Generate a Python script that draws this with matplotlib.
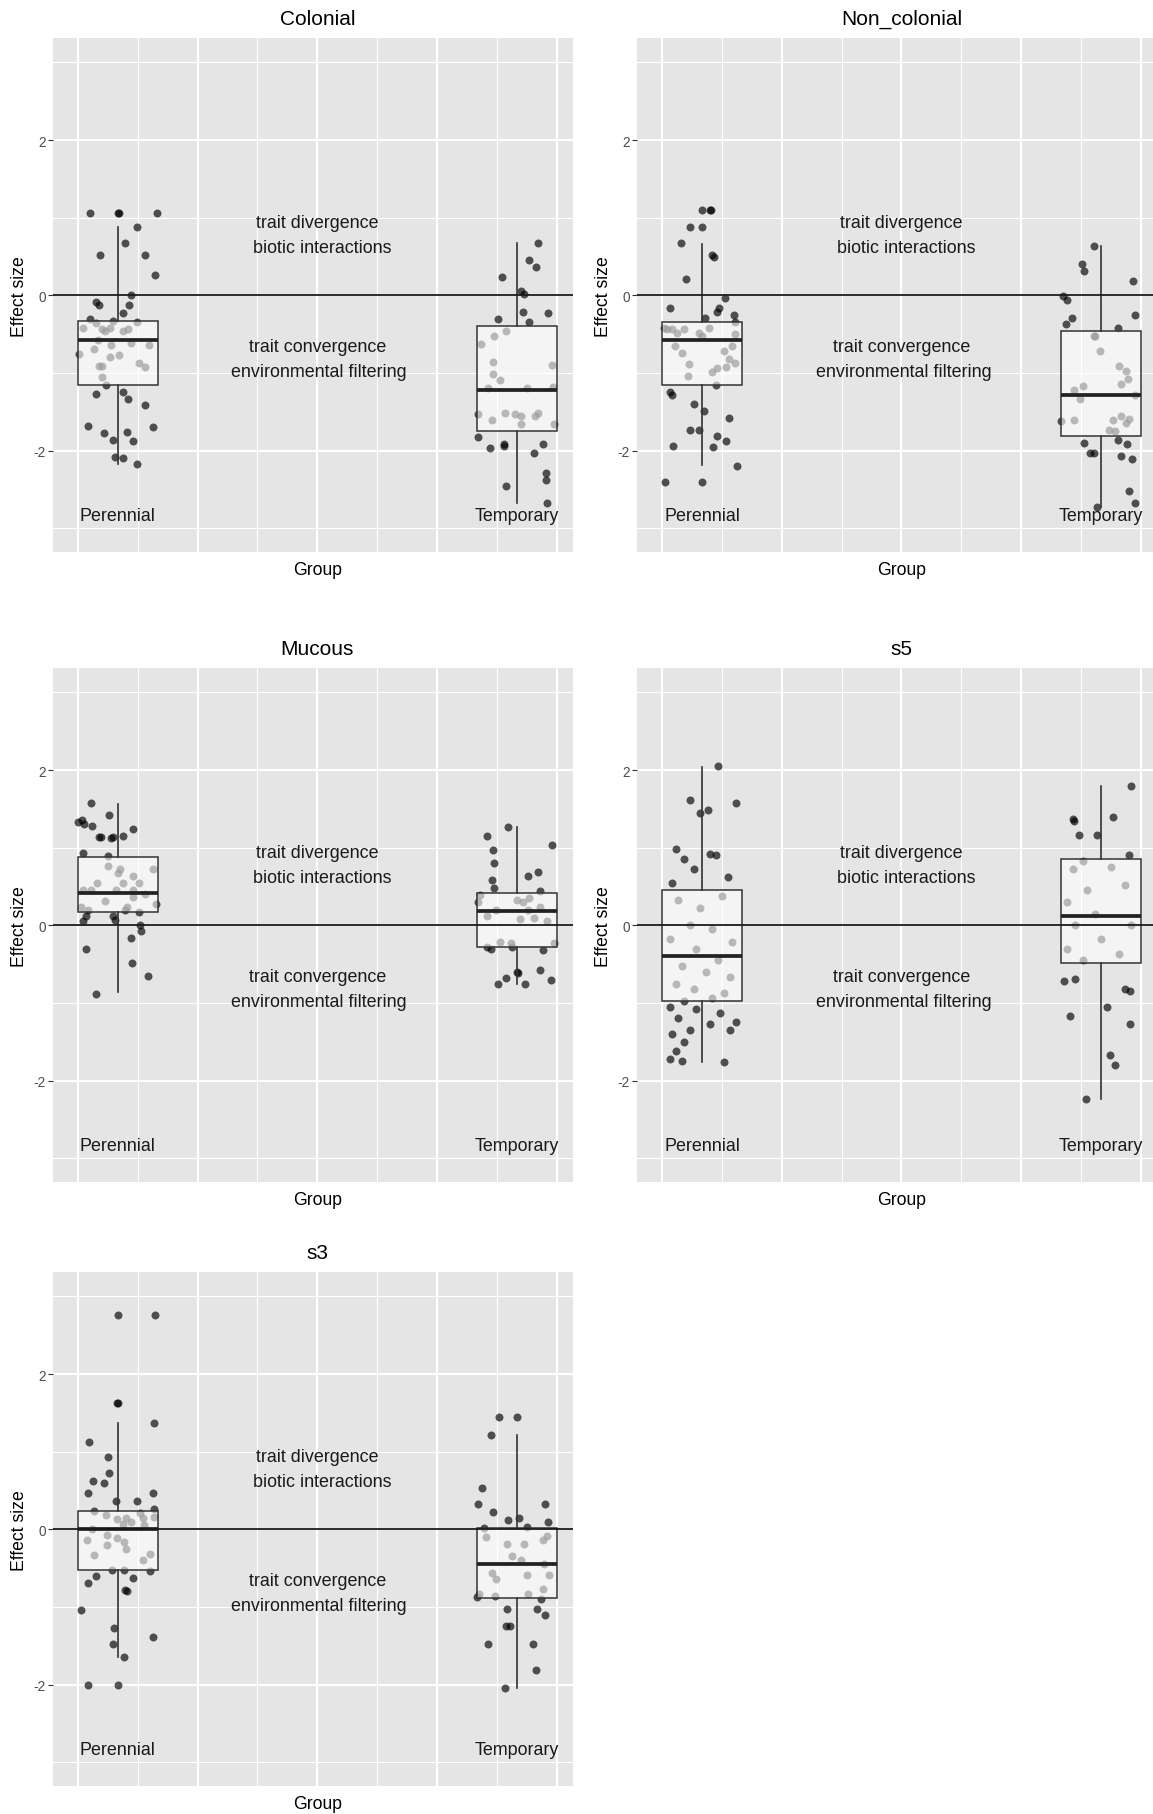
import matplotlib
matplotlib.use("Agg")
import matplotlib.pyplot as plt
from matplotlib.transforms import blended_transform_factory

plt.rcParams['font.family'] = ['Liberation Sans', 'DejaVu Sans']

FIG_W, FIG_H = 1153, 1815          # output size in pixels (dpi 100)
PANEL_W, PANEL_H = 520, 514        # panel size in pixels

titles = ["Colonial", "Non_colonial", "Mucous", "s5", "s3"]
groups = ["Perennial", "Temporary"]

# ---- Colonial ----------------------------------------------------------------
colonial_per_y = [1.06, 1.06, 1.06, 1.06, 0.88, 0.67, 0.52, 0.52, 0.26, 0.01, -0.08, -0.12, -0.12,
                  -0.23, -0.30, -0.33, -0.34, -0.42, -0.36, -0.43, -0.46, -0.42, -0.46, -0.44, -0.58,
                  -0.69, -0.64, -0.62, -0.64, -0.76, -0.79, -0.77, -0.87, -0.92, -0.91, -0.91, -1.05,
                  -1.16, -1.27, -1.25, -1.33, -1.41, -1.68, -1.69, -1.77, -1.76, -1.86, -1.88, -2.08,
                  -2.10, -2.17]
colonial_per_dx = [-0.070, 0.000, 0.002, 0.099, 0.047, 0.018, -0.045, 0.069, 0.092, 0.034, -0.054,
                   -0.048, 0.028, 0.013, -0.070, -0.012, 0.048, -0.087, -0.056, -0.041, -0.033, -0.020,
                   0.012, 0.026, -0.049, -0.060, -0.018, 0.034, 0.078, -0.098, -0.020, 0.002, 0.053,
                   0.069, -0.047, -0.039, -0.041, -0.031, -0.054, 0.013, 0.026, 0.068, -0.076, 0.089,
                   -0.034, 0.022, -0.012, 0.038, -0.008, 0.012, 0.047]
colonial_tmp_y = [0.67, 0.46, 0.36, 0.23, 0.06, 0.02, -0.21, -0.23, -0.30, -0.35, -0.46, -0.53, -0.63,
                  -0.86, -0.90, -1.02, -1.09, -1.19, -1.19, -1.18, -1.53, -1.60, -1.52, -1.53, -1.56,
                  -1.66, -1.55, -1.52, -1.66, -1.82, -1.97, -1.92, -1.94, -2.03, -1.92, -2.29, -2.38,
                  -2.45, -2.68]
colonial_tmp_dx = [0.054, 0.030, 0.049, -0.037, 0.011, 0.019, 0.015, 0.079, -0.048, 0.032, -0.028,
                   -0.057, -0.089, -0.059, 0.089, -0.059, -0.042, -0.071, 0.025, 0.092, -0.098, -0.063,
                   -0.029, -0.004, 0.011, 0.011, 0.046, 0.053, 0.094, -0.096, -0.067, -0.032, -0.031,
                   0.044, 0.067, 0.073, 0.073, -0.027, 0.075]
# q1, median, q3, lower whisker, upper whisker
colonial_box = [(-1.15, -0.58, -0.33, -2.17, 0.88), (-1.75, -1.22, -0.40, -2.68, 0.67)]

# ---- Non_colonial ------------------------------------------------------------
noncol_per_y = [1.10, 1.10, 1.10, 0.88, 0.88, 0.67, 0.52, 0.49, 0.21, -0.04, -0.16, -0.16, -0.22,
                -0.25, -0.29, -0.34, -0.42, -0.43, -0.44, -0.48, -0.44, -0.48, -0.52, -0.42, -0.50,
                -0.65, -0.74, -0.87, -0.72, -0.65, -0.82, -0.89, -0.92, -0.93, -0.99, -1.04, -1.15,
                -1.24, -1.28, -1.40, -1.49, -1.58, -1.73, -1.73, -1.94, -1.81, -1.88, -1.95, -2.20,
                -2.40, -2.40]
noncol_per_dx = [0.000, 0.023, 0.021, -0.029, 0.000, -0.052, 0.025, 0.029, -0.041, 0.057, -0.079,
                 0.042, 0.038, 0.079, 0.008, 0.082, -0.096, -0.088, -0.075, -0.063, -0.046, -0.008,
                 0.000, 0.017, 0.084, -0.067, -0.050, 0.084, 0.054, 0.074, 0.067, -0.033, 0.059,
                 0.038, 0.025, -0.035, 0.036, -0.079, -0.075, -0.021, 0.004, 0.067, -0.029, -0.008,
                 -0.073, 0.038, 0.059, 0.027, 0.089, -0.094, 0.000]
noncol_tmp_y = [0.64, 0.40, 0.31, 0.18, -0.01, -0.06, -0.29, -0.26, -0.37, -0.42, -0.52, -0.52, -0.72,
                -0.91, -0.97, -1.08, -1.14, -1.17, -1.22, -1.33, -1.28, -1.62, -1.60, -1.61, -1.55,
                -1.59, -1.65, -1.73, -1.75, -1.90, -2.03, -2.03, -1.87, -1.91, -2.07, -2.11, -2.52,
                -2.68, -2.73]
noncol_tmp_dx = [-0.018, -0.047, -0.043, 0.080, -0.095, -0.085, -0.072, 0.085, -0.087, 0.043, -0.018,
                 -0.014, -0.001, 0.045, 0.064, 0.068, 0.051, -0.045, -0.066, -0.053, 0.085, -0.099,
                 -0.068, 0.030, 0.051, 0.070, 0.064, 0.020, 0.036, -0.043, -0.028, -0.018, 0.043,
                 0.066, 0.051, 0.078, 0.070, 0.085, -0.010]
noncol_box = [(-1.15, -0.57, -0.34, -2.19, 0.66), (-1.81, -1.28, -0.46, -2.73, 0.63)]

# ---- Mucous ------------------------------------------------------------------
mucous_per_y = [1.58, 1.33, 1.36, 1.30, 1.28, 1.42, 1.24, 1.14, 1.14, 1.13, 1.14, 1.15, 0.93, 0.89,
                0.77, 0.73, 0.67, 0.72, 0.63, 0.54, 0.54, 0.55, 0.45, 0.45, 0.46, 0.46, 0.31, 0.37,
                0.40, 0.28, 0.23, 0.20, 0.24, 0.20, 0.17, 0.12, 0.06, 0.12, 0.07, 0.01, -0.07, -0.17,
                -0.30, -0.48, -0.65, -0.88]
mucous_per_dx = [-0.068, -0.100, -0.089, -0.084, -0.064, -0.022, 0.038, -0.047, -0.042, -0.018,
                 -0.013, 0.013, -0.087, -0.025, -0.024, 0.006, 0.001, 0.087, 0.038, -0.053, 0.013,
                 0.054, -0.087, -0.067, -0.006, 0.038, -0.033, 0.038, 0.068, 0.096, -0.093, -0.075,
                 0.024, 0.019, 0.052, -0.079, -0.087, -0.013, -0.008, 0.056, 0.058, 0.033, -0.079,
                 0.035, 0.076, -0.054]
mucous_tmp_y = [1.26, 1.15, 1.04, 0.97, 0.80, 0.64, 0.69, 0.58, 0.48, 0.44, 0.39, 0.30, 0.32, 0.30,
                0.35, 0.12, 0.20, 0.20, 0.23, 0.08, 0.09, 0.06, -0.21, -0.23, -0.28, -0.23, -0.28,
                -0.30, -0.32, -0.60, -0.61, -0.58, -0.68, -0.75, -0.76, -0.70]
mucous_tmp_dx = [-0.021, -0.074, 0.089, -0.060, -0.058, 0.028, 0.054, -0.063, -0.058, 0.059, -0.093,
                 -0.097, 0.002, 0.016, 0.031, -0.074, -0.053, 0.028, 0.059, 0.009, 0.043, 0.076,
                 -0.042, -0.014, -0.012, 0.094, -0.074, -0.065, 0.066, 0.002, 0.004, 0.059, -0.028,
                 -0.046, 0.020, 0.087]
mucous_box = [(0.17, 0.41, 0.88, -0.86, 1.56), (-0.28, 0.18, 0.42, -0.76, 1.26)]

# ---- s5 ----------------------------------------------------------------------
s5_per_y = [2.05, 1.62, 1.58, 1.45, 1.48, 0.98, 0.85, 0.92, 0.90, 0.72, 0.55, 0.62, 0.33, 0.22, 0.38,
            0.00, -0.05, -0.18, -0.22, -0.30, -0.45, -0.52, -0.60, -0.67, -0.75, -0.82, -0.87, -0.93,
            -0.97, -1.05, -1.08, -1.13, -1.20, -1.27, -1.24, -1.40, -1.35, -1.35, -1.50, -1.62, -1.72,
            -1.75, -1.76]
s5_per_dx = [0.040, -0.030, 0.085, -0.005, 0.015, -0.065, -0.045, 0.020, 0.035, -0.020, -0.075, 0.065,
             -0.060, -0.005, 0.050, -0.030, 0.025, -0.080, 0.075, -0.015, 0.040, -0.050, 0.010, 0.070,
             -0.065, -0.020, 0.055, 0.025, -0.045, -0.080, -0.015, 0.045, -0.060, 0.020, 0.085, -0.075,
             -0.030, 0.070, -0.045, -0.065, -0.080, -0.050, 0.055]
s5_tmp_y = [1.79, 1.37, 1.34, 1.40, 1.16, 1.16, 0.83, 0.90, 0.72, 0.75, 0.45, 0.52, 0.30, 0.15, 0.00,
            0.00, -0.18, -0.30, -0.37, -0.45, -0.72, -0.69, -0.82, -0.85, -1.05, -1.17, -1.27, -1.67,
            -1.80, -2.24]
s5_tmp_dx = [0.075, -0.070, -0.068, 0.030, -0.055, -0.010, -0.045, 0.070, -0.070, 0.025, -0.035, 0.060,
             -0.085, -0.015, -0.065, 0.075, 0.000, -0.085, 0.045, -0.045, -0.093, -0.065, 0.060, 0.073,
             0.015, -0.078, 0.073, 0.023, 0.035, -0.038]
s5_box = [(-0.97, -0.39, 0.46, -1.76, 2.04), (-0.49, 0.12, 0.85, -2.24, 1.79)]

# ---- s3 ----------------------------------------------------------------------
s3_per_y = [2.76, 2.76, 1.63, 1.63, 1.37, 1.13, 0.93, 0.72, 0.62, 0.60, 0.47, 0.47, 0.37, 0.36, 0.26,
            0.23, 0.18, 0.13, 0.14, 0.10, 0.21, 0.14, 0.16, 0.07, 0.06, 0.01, -0.07, -0.11, -0.14,
            -0.16, -0.20, -0.25, -0.33, -0.40, -0.32, -0.52, -0.52, -0.54, -0.60, -0.69, -0.63, -0.78,
            -0.80, -1.04, -1.27, -1.48, -1.39, -1.65, -2.01, -2.01]
s3_per_dx = [-0.001, 0.092, -0.003, -0.001, 0.091, -0.073, -0.024, -0.022, -0.062, -0.035, -0.074,
             0.087, -0.006, 0.048, 0.090, -0.059, -0.030, -0.002, 0.020, 0.034, 0.055, 0.064, 0.091,
             0.013, 0.065, -0.066, -0.028, -0.002, -0.077, 0.016, -0.028, 0.020, -0.059, 0.064, 0.080,
             -0.015, 0.015, 0.080, -0.056, -0.074, 0.038, 0.018, 0.022, -0.093, -0.009, -0.013, 0.087,
             0.016, -0.074, -0.001]
s3_tmp_y = [1.45, 1.45, 1.21, 0.53, 0.33, 0.32, 0.22, 0.12, 0.14, 0.09, 0.02, 0.03, -0.10, -0.19,
            -0.19, -0.14, -0.08, -0.35, -0.39, -0.56, -0.64, -0.59, -0.45, -0.59, -0.83, -0.86, -0.83,
            -0.77, -0.87, -0.90, -1.03, -1.03, -1.10, -1.25, -1.25, -1.48, -1.48, -1.81, -2.05]
s3_tmp_dx = [-0.044, 0.000, -0.064, -0.086, -0.097, 0.072, -0.060, -0.021, 0.007, 0.078, -0.081, 0.025,
             -0.076, -0.024, 0.019, 0.067, 0.077, -0.012, 0.012, -0.063, -0.051, 0.027, 0.069, 0.081,
             -0.095, -0.055, 0.028, 0.065, -0.100, 0.060, -0.025, 0.051, 0.070, -0.028, -0.016, -0.072,
             0.041, 0.049, -0.030]
s3_box = [(-0.52, 0.00, 0.24, -1.64, 1.37), (-0.88, -0.45, 0.02, -2.04, 1.21)]

panels = [
    (colonial_per_y, colonial_per_dx, colonial_tmp_y, colonial_tmp_dx, colonial_box),
    (noncol_per_y, noncol_per_dx, noncol_tmp_y, noncol_tmp_dx, noncol_box),
    (mucous_per_y, mucous_per_dx, mucous_tmp_y, mucous_tmp_dx, mucous_box),
    (s5_per_y, s5_per_dx, s5_tmp_y, s5_tmp_dx, s5_box),
    (s3_per_y, s3_per_dx, s3_tmp_y, s3_tmp_dx, s3_box),
]

# top-left corner of every panel, in pixels
panel_xy = [(53.3, 39.3), (637.4, 39.3), (53.3, 669.3), (637.4, 669.3), (53.3, 1273.3)]


def draw_panel(ax, title, per_y, per_dx, tmp_y, tmp_dx, box):
    ax.set_facecolor('#E5E5E5')
    ax.set_xlim(0.838, 2.142)
    ax.set_ylim(-3.31, 3.31)
    ax.set_xticks([0.9, 1.2, 1.5, 1.8, 2.1])
    ax.set_xticks([1.05, 1.35, 1.65, 1.95], minor=True)
    ax.set_yticks([-2, 0, 2])
    ax.set_yticks([-3, -1, 1, 3], minor=True)
    ax.set_yticklabels(['-2', '0', '2'])
    ax.grid(which='major', color='white', lw=1.5)
    ax.grid(which='minor', color='white', lw=0.8)
    ax.set_axisbelow(True)
    for sp in ax.spines.values():
        sp.set_visible(False)
    ax.tick_params(axis='x', which='both', length=0, labelbottom=False)
    ax.tick_params(axis='y', which='major', length=3.5, width=0.8, color='#333333',
                   labelsize=9.8, labelcolor='#4D4D4D', pad=2)
    ax.tick_params(axis='y', which='minor', length=0)

    # jittered points (drawn below the boxes)
    for xc, ys, dxs in ((1, per_y, per_dx), (2, tmp_y, tmp_dx)):
        ax.scatter([xc + d for d in dxs], ys, s=33, color='black', alpha=0.66,
                   linewidths=0, zorder=2)

    stats = []
    for q1, med, q3, lo, hi in box:
        stats.append(dict(q1=q1, med=med, q3=q3, whislo=lo, whishi=hi, fliers=[]))
    ax.bxp(stats, positions=[1, 2], widths=0.2, patch_artist=True, showcaps=False,
           showfliers=False, manage_ticks=False, zorder=3,
           boxprops=dict(facecolor=(1, 1, 1, 0.6), edgecolor='#333333', linewidth=1.1),
           medianprops=dict(color='#222222', linewidth=2.7),
           whiskerprops=dict(color='#333333', linewidth=1.2))

    ax.axhline(0, color='#1A1A1A', lw=1.3, zorder=4)

    txt = dict(ha='center', va='center', fontsize=12.9, color='#1A1A1A', zorder=5)
    ax.text(1.50, 0.944, 'trait divergence', **txt)
    ax.text(1.512, 0.614, 'biotic interactions', **txt)
    ax.text(1.50, -0.661, 'trait convergence', **txt)
    ax.text(1.505, -0.987, 'environmental filtering', **txt)
    ax.text(1, -2.83, groups[0], **txt)
    ax.text(2, -2.83, groups[1], **txt)

    bt = blended_transform_factory(ax.transData, ax.transAxes)
    ax.text(1.5, 1 + 20 / PANEL_H, title, transform=bt, ha='center', va='center',
            fontsize=15, color='black')
    ax.text(1.5, -17 / PANEL_H, 'Group', transform=bt, ha='center', va='center',
            fontsize=12.7, color='black')
    ax.text(-34 / PANEL_W, 0.5, 'Effect size', transform=ax.transAxes, rotation=90,
            ha='center', va='center', fontsize=12.7, color='black')


fig = plt.figure(figsize=(FIG_W / 100, FIG_H / 100), dpi=100)
for title, (px, py), data in zip(titles, panel_xy, panels):
    ax = fig.add_axes([px / FIG_W, 1 - (py + PANEL_H) / FIG_H, PANEL_W / FIG_W, PANEL_H / FIG_H])
    draw_panel(ax, title, *data)

fig.savefig('out.png', dpi=100, facecolor='white')
